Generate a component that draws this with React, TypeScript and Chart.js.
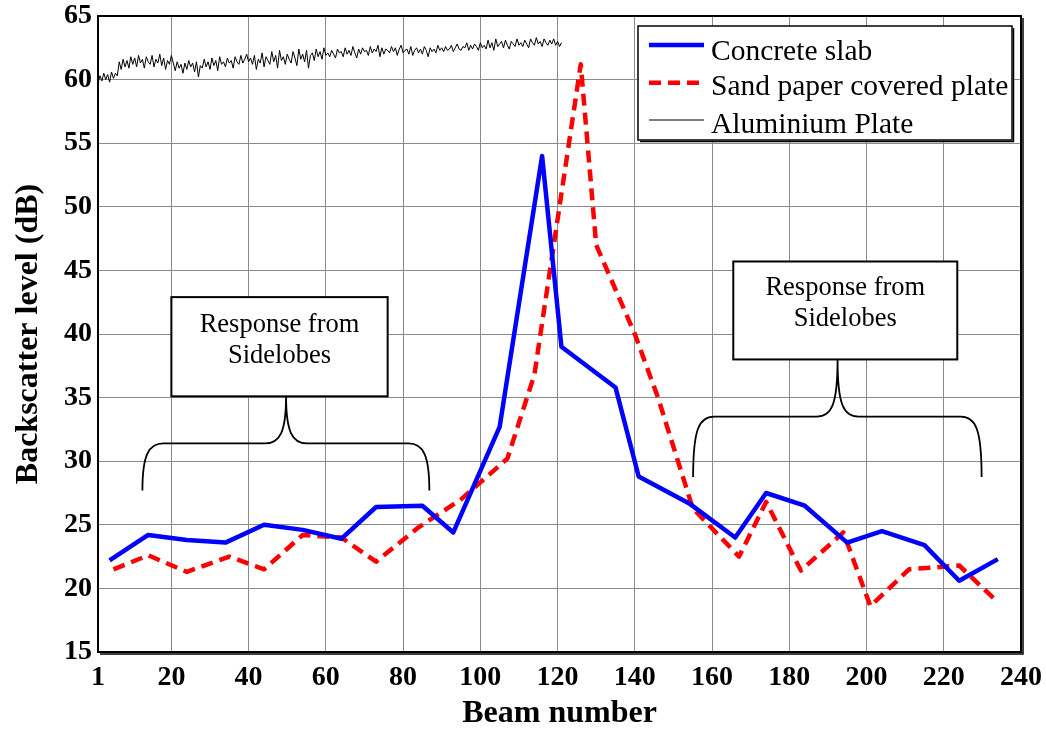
import React, { useEffect, useRef } from 'react';
import { Chart, registerables } from 'chart.js';

Chart.register(...registerables);

// ---------- data ----------
const xTickValues = [1, 20, 40, 60, 80, 100, 120, 140, 160, 180, 200, 220, 240];
const yTickMin = 15;
const yTickMax = 65;
const yTickStep = 5;

const seriesLabels = ['Concrete slab', 'Sand paper covered plate', 'Aluminium Plate'];

const concreteBeams = [4, 14, 24, 34, 44, 54, 64, 73, 85, 93, 105, 116, 121, 135, 141, 154, 166, 174, 184, 195, 204, 215, 224, 234];
const concreteLevels = [22.2, 24.2, 23.8, 23.6, 25.0, 24.6, 23.9, 26.4, 26.5, 24.4, 32.7, 54.0, 39.0, 35.8, 28.8, 26.7, 24.0, 27.5, 26.5, 23.6, 24.5, 23.4, 20.6, 22.3];

const sandBeams = [5, 14, 24, 35, 44, 54, 64, 73, 84, 95, 107, 114, 126, 130, 140, 146, 155, 167, 174, 183, 194, 201, 211, 224, 233];
const sandLevels = [21.5, 22.6, 21.3, 22.5, 21.5, 24.2, 24.0, 22.1, 24.8, 27.0, 30.2, 36.8, 61.2, 47.0, 40.0, 35.0, 26.3, 22.5, 26.8, 21.4, 24.4, 18.6, 21.5, 21.8, 19.2];

const aluminiumStartBeam = 1;
const aluminiumBeamStep = 0.5;
const aluminiumLevels = [
  59.7, 60.3, 59.9, 60.5, 60.0, 60.4, 59.8, 60.6, 60.1, 60.5, 60.3, 61.4, 60.8, 61.6, 61.0, 61.5, 60.9, 61.8, 61.2, 61.7,
  61.0, 61.9, 61.3, 61.6, 60.9, 61.8, 61.4, 61.2, 61.9, 61.0, 61.6, 61.3, 62.0, 61.1, 61.7, 60.8, 61.5, 61.2, 61.9, 61.3,
  60.7, 61.4, 60.9, 61.2, 60.5, 61.3, 60.8, 61.5, 61.0, 61.3, 60.6, 61.4, 60.2, 61.1, 60.9, 61.6, 61.0, 61.4, 60.8, 61.7,
  61.1, 61.5, 60.7, 61.8, 61.2, 61.4, 61.0, 61.7, 61.3, 61.5, 60.9, 61.8, 61.4, 61.2, 61.9, 61.3, 61.6, 62.0, 61.4, 61.7,
  61.2, 61.9, 60.8, 61.6, 61.3, 62.1, 61.0, 61.8, 61.5, 61.2, 62.2, 61.4, 61.9, 60.9, 62.3, 61.5, 61.8, 61.2, 62.0, 61.6,
  61.3, 62.2, 61.7, 61.1, 62.4, 61.6, 62.0, 61.4, 62.3, 60.9, 61.9, 62.1, 61.5, 62.4, 61.8, 62.2, 61.6, 62.5, 61.9, 62.1,
  61.8, 62.3, 62.0, 61.7, 62.4, 62.1, 62.2, 61.8, 62.5, 62.0, 62.3, 61.9, 62.6, 62.1, 61.7, 62.4, 62.0, 62.5, 62.2, 62.3,
  61.9, 62.6, 62.1, 62.4, 62.2, 62.7, 61.8, 62.5, 62.0, 62.4, 62.3, 62.1, 62.6, 62.2, 62.5, 61.9, 62.4, 62.7, 62.1, 62.3,
  62.4, 62.0, 62.6, 61.9, 62.3, 62.5, 62.1, 62.4, 62.0, 62.6, 62.3, 61.8, 62.5, 62.2, 62.4, 62.1, 62.7, 62.3, 62.5, 62.2,
  62.6, 62.3, 62.4, 62.7, 62.2, 62.5, 62.8, 62.4, 62.3, 62.6, 62.5, 62.9, 62.3, 62.7, 62.4, 62.8, 62.6, 62.3, 62.9, 62.5,
  62.7, 62.4, 63.1, 62.5, 62.9, 62.3, 63.2, 62.6, 62.8, 63.0, 62.5, 63.1, 62.7, 62.4, 63.0, 62.8, 62.6, 63.2, 62.7, 62.9,
  62.6, 63.1, 62.8, 62.5, 63.2, 62.9, 62.7, 63.3, 62.8, 63.0, 62.6, 63.2, 62.9, 62.7, 63.1, 62.8, 63.2, 62.7, 63.0, 62.6, 62.9,
];

const annotationText = ['Response from', 'Sidelobes'];
// annotation geometry in data coordinates (beam, dB)
const leftNote = { boxX0: 20, boxX1: 76, boxY0: 42.9, boxY1: 35.1, braceX0: 12.5, braceX1: 86.8, braceMid: 49.7, braceEndY: 27.7, braceBarY: 31.4, textY1: 40.7, textY2: 38.3 };
const rightNote = { boxX0: 165.5, boxX1: 223.5, boxY0: 45.7, boxY1: 38.0, braceX0: 155.1, braceX1: 229.8, braceMid: 192.5, braceEndY: 28.75, braceBarY: 33.5, textY1: 43.6, textY2: 41.2 };

const SERIF = '"Liberation Serif", "Times New Roman", Times, serif';

const pts = (xs: number[], ys: number[]) => xs.map((x, i) => ({ x, y: ys[i] }));

const decorPlugin = {
  id: 'decor',
  afterDatasetsDraw(chart: any) {
    const { ctx, chartArea, scales } = chart;
    const xs = scales.x;
    const ys = scales.y;
    const px = (v: number) => xs.getPixelForValue(v);
    const py = (v: number) => ys.getPixelForValue(v);

    ctx.save();
    // plot frame
    ctx.strokeStyle = '#000';
    ctx.lineWidth = 2;
    ctx.strokeRect(chartArea.left, chartArea.top, chartArea.right - chartArea.left, chartArea.bottom - chartArea.top);
    ctx.lineWidth = 1.5;
    ctx.beginPath();
    ctx.moveTo(chartArea.right + 2, chartArea.top + 2);
    ctx.lineTo(chartArea.right + 2, chartArea.bottom + 2);
    ctx.lineTo(chartArea.left + 2, chartArea.bottom + 2);
    ctx.stroke();

    // annotations
    const drawNote = (n: any) => {
      const bx0 = px(n.boxX0), bx1 = px(n.boxX1), by0 = py(n.boxY0), by1 = py(n.boxY1);
      ctx.fillStyle = '#fff';
      ctx.fillRect(bx0, by0, bx1 - bx0, by1 - by0);
      ctx.strokeStyle = '#000';
      ctx.lineWidth = 2;
      ctx.strokeRect(bx0, by0, bx1 - bx0, by1 - by0);
      ctx.fillStyle = '#000';
      ctx.font = `26.5px ${SERIF}`;
      ctx.textAlign = 'center';
      ctx.textBaseline = 'middle';
      const cx = (bx0 + bx1) / 2;
      ctx.fillText(annotationText[0], cx, py(n.textY1));
      ctx.fillText(annotationText[1], cx, py(n.textY2));

      const x0 = px(n.braceX0), x1 = px(n.braceX1), xm = px(n.braceMid);
      const yEnd = py(n.braceEndY), yBar = py(n.braceBarY), yTip = by1;
      const r = 21;
      ctx.lineWidth = 1.8;
      ctx.beginPath();
      ctx.moveTo(x0, yEnd);
      ctx.bezierCurveTo(x0, yBar + 12, x0 + 6, yBar, x0 + r, yBar);
      ctx.lineTo(xm - r, yBar);
      ctx.bezierCurveTo(xm - 6, yBar, xm, yBar - 12, xm, yTip);
      ctx.bezierCurveTo(xm, yBar - 12, xm + 6, yBar, xm + r, yBar);
      ctx.lineTo(x1 - r, yBar);
      ctx.bezierCurveTo(x1 - 6, yBar, x1, yBar + 12, x1, yEnd);
      ctx.stroke();
    };
    drawNote(leftNote);
    drawNote(rightNote);

    // legend box
    const lx0 = chartArea.right - 383, ly0 = chartArea.top + 10;
    const lw = 374, lh = 114;
    ctx.fillStyle = '#fff';
    ctx.fillRect(lx0, ly0, lw, lh);
    ctx.strokeStyle = '#000';
    ctx.lineWidth = 1.5;
    ctx.strokeRect(lx0, ly0, lw, lh);
    ctx.beginPath();
    ctx.moveTo(lx0 + lw + 1.5, ly0 + 2);
    ctx.lineTo(lx0 + lw + 1.5, ly0 + lh + 1.5);
    ctx.lineTo(lx0 + 2, ly0 + lh + 1.5);
    ctx.stroke();

    const rowsLineY = [19, 56.7, 94];
    const rowsTextY = [33.5, 69, 107];
    chart.data.datasets.forEach((ds: any, i: number) => {
      ctx.save();
      ctx.strokeStyle = ds.borderColor;
      ctx.lineWidth = ds.borderWidth;
      ctx.setLineDash(ds.borderDash || []);
      ctx.beginPath();
      ctx.moveTo(lx0 + 11, ly0 + rowsLineY[i]);
      ctx.lineTo(lx0 + 66, ly0 + rowsLineY[i]);
      ctx.stroke();
      ctx.restore();
      ctx.fillStyle = '#000';
      ctx.font = `29.5px ${SERIF}`;
      ctx.textAlign = 'left';
      ctx.textBaseline = 'alphabetic';
      ctx.fillText(ds.label, lx0 + 73, ly0 + rowsTextY[i]);
    });
    ctx.restore();
  },
};

export default function App() {
  const canvasRef = useRef<HTMLCanvasElement | null>(null);

  useEffect(() => {
    document.body.style.margin = '0';
    const canvas = canvasRef.current;
    if (!canvas) return;
    const chart = new Chart(canvas, {
      type: 'line',
      data: {
        datasets: [
          {
            label: seriesLabels[0],
            data: pts(concreteBeams, concreteLevels),
            borderColor: '#0000ff',
            borderWidth: 4.5,
            borderJoinStyle: 'round',
            pointRadius: 0,
            tension: 0,
            fill: false,
          },
          {
            label: seriesLabels[1],
            data: pts(sandBeams, sandLevels),
            borderColor: '#ff0000',
            borderWidth: 4.5,
            borderDash: [12, 7],
            borderJoinStyle: 'round',
            pointRadius: 0,
            tension: 0,
            fill: false,
          },
          {
            label: seriesLabels[2],
            data: aluminiumLevels.map((v, i) => ({ x: aluminiumStartBeam + i * aluminiumBeamStep, y: v })),
            borderColor: '#000000',
            borderWidth: 1,
            pointRadius: 0,
            tension: 0,
            fill: false,
          },
        ],
      },
      options: {
        responsive: false,
        animation: false,
        devicePixelRatio: 1,
        layout: { padding: { left: 0, top: 16, right: 25, bottom: 0 } },
        plugins: {
          legend: { display: false },
          tooltip: { enabled: false },
        },
        scales: {
          x: {
            type: 'linear',
            min: 1,
            max: 240,
            afterBuildTicks: (scale: any) => {
              scale.ticks = xTickValues.map((v) => ({ value: v }));
            },
            afterFit: (scale: any) => {
              scale.height = 79;
              scale.paddingLeft = 0;
              scale.paddingRight = 0;
            },
            grid: { color: '#8a8a8a', lineWidth: 1, drawTicks: false },
            border: { display: false },
            ticks: {
              autoSkip: false,
              maxRotation: 0,
              padding: 9,
              color: '#000',
              font: { family: SERIF, size: 28, weight: 'bold', lineHeight: 1.2 },
              callback: (v: any) => String(v),
            },
            title: {
              display: true,
              text: 'Beam number',
              color: '#000',
              font: { family: SERIF, size: 32, weight: 'bold', lineHeight: 1 },
              padding: { top: 0, bottom: 1 },
            },
          },
          y: {
            type: 'linear',
            min: yTickMin,
            max: yTickMax,
            afterFit: (scale: any) => {
              scale.width = 98;
              scale.paddingTop = 0;
              scale.paddingBottom = 0;
            },
            grid: { color: '#8a8a8a', lineWidth: 1, drawTicks: false },
            border: { display: false },
            ticks: {
              stepSize: yTickStep,
              padding: 6,
              color: '#000',
              font: { family: SERIF, size: 28, weight: 'bold' },
            },
            title: {
              display: true,
              text: 'Backscatter level (dB)',
              color: '#000',
              font: { family: SERIF, size: 32, weight: 'bold', lineHeight: 1 },
              padding: { top: 13, bottom: 0 },
            },
          },
        },
      },
      plugins: [decorPlugin],
    });
    return () => chart.destroy();
  }, []);

  return (
    <div style={{ width: 1046, height: 731, background: '#fff' }}>
      <canvas ref={canvasRef} width={1046} height={731} style={{ display: 'block' }} />
    </div>
  );
}
